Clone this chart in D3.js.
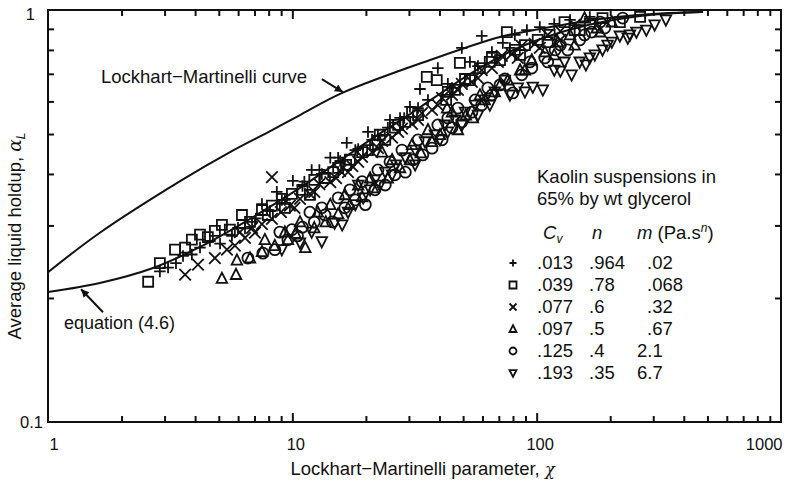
<!DOCTYPE html>
<html>
<head>
<meta charset="utf-8">
<script src="https://cdn.jsdelivr.net/npm/d3@7"></script>
<style>
  body { margin: 0; background: #fff; }
  text { font-family: "Liberation Sans", Arial, Helvetica, sans-serif; fill: #111; }
</style>
</head>
<body>
<div class="chart"></div>
<script>
// Lockhart-Martinelli parameter (chi) and liquid holdup (alpha) for each kaolin suspension
var plusChi = [2.87,3.10,3.34,3.57,3.88,4.19,4.60,5.06,5.66,6.40,6.84,7.51,8.10,8.64,9.32,10.05,11.0,12.0,13.2,14.3,15.7,16.7,18.6,20.4,22.4,25.1,27.6,30.3,33.3,35.9,39.4,43.3,49.4,53.3,59.6,65.6,72.7,81.4,91.2,103,118,137,165,
  5.99,7.09,9.06,11.2,12.9,15.4,18.1,21.2,24.6,28.7,32.7,45.0,57.5,77.7];
var plusAlpha = [0.232,0.237,0.243,0.253,0.255,0.265,0.275,0.271,0.283,0.295,0.306,0.338,0.325,0.362,0.346,0.385,0.374,0.409,0.400,0.438,0.430,0.476,0.460,0.506,0.495,0.541,0.547,0.582,0.643,0.605,0.723,0.662,0.809,0.748,0.865,0.791,0.832,0.870,0.894,0.909,0.925,0.946,0.962,
  0.296,0.312,0.346,0.383,0.409,0.438,0.457,0.484,0.518,0.547,0.578,0.647,0.731,0.809];

var squareChi = [2.57,2.87,3.31,3.64,3.88,4.19,4.51,4.82,5.15,5.55,6.22,6.71,7.51,8.25,9.06,9.96,11.0,12.3,13.6,15.4,17.2,19.3,21.8,24.0,26.3,29.0,32.7,35.5,39.0,42.6,46.3,48.5,53.3,58.6,65.6,70.8,75.5,81.4,89.5,101,113,130,150,165,186,219,265,
  7.94,9.32,11.8,14.7,16.6,20.4,22.8,27.1,30.9,43.3,50.9,64.3,85.5,111,143];
var squareAlpha = [0.219,0.243,0.262,0.265,0.277,0.285,0.281,0.291,0.301,0.293,0.318,0.306,0.327,0.335,0.348,0.358,0.366,0.387,0.391,0.414,0.433,0.452,0.471,0.484,0.518,0.535,0.556,0.688,0.676,0.605,0.640,0.744,0.676,0.723,0.765,0.756,0.884,0.800,0.822,0.846,0.870,0.935,0.894,0.925,0.956,0.935,0.962,
  0.318,0.331,0.356,0.404,0.421,0.457,0.498,0.526,0.565,0.633,0.680,0.748,0.778,0.836,0.894];

var crossChi = [3.64,4.11,4.82,5.40,5.82,6.40,7.03,7.51,8.25,8.25,8.98,9.77,10.75,11.8,12.9,14.3,15.7,17.6,19.3,21.2,23.3,25.6,28.1,30.9,33.9,37.3,41.0,45.0,49.4,54.3,59.6,65.6,72.0,79.1,86.9,98.2,111,125,143,
  6.10,6.84,10.2,12.3,15.1,16.9,18.6,22.4,27.1,32.7,39.4,47.6,57.5,69.4,83.7,103,125];
var crossAlpha = [0.228,0.241,0.250,0.262,0.268,0.280,0.288,0.302,0.393,0.311,0.323,0.335,0.348,0.358,0.378,0.382,0.407,0.418,0.440,0.452,0.481,0.490,0.515,0.529,0.562,0.572,0.612,0.622,0.662,0.669,0.715,0.723,0.774,0.782,0.818,0.827,0.870,0.889,0.920,
  0.289,0.296,0.331,0.362,0.391,0.404,0.428,0.462,0.506,0.541,0.588,0.640,0.683,0.748,0.765,0.809,0.846];

var triUpChi = [5.15,5.88,5.93,6.71,7.51,8.48,9.59,10.3,11.3,12.3,13.7,15.4,17.2,19.3,21.4,23.3,24.6,27.6,30.3,33.6,37.3,40.2,43.0,47.6,51.3,54.8,61.3,67.4,76.2,85.5,95.5,108,122,137,157,176,203,
  7.72,9.32,10.75,12.7,14.3,16.4,18.6,20.8,25.6,30.9,35.9,45.0,58.6,70.8,89.5,118,143,182];
var triUpAlpha = [0.223,0.228,0.247,0.250,0.259,0.268,0.277,0.287,0.265,0.296,0.306,0.320,0.337,0.352,0.370,0.452,0.391,0.414,0.433,0.450,0.479,0.498,0.578,0.512,0.556,0.547,0.605,0.633,0.676,0.715,0.756,0.791,0.836,0.870,0.956,0.904,0.935,
  0.277,0.289,0.306,0.323,0.337,0.356,0.376,0.391,0.433,0.471,0.512,0.565,0.622,0.658,0.715,0.778,0.822,0.884];

var circleChi = [6.58,7.58,8.48,9.59,10.5,11.0,12.3,13.6,14.6,16.4,18.1,19.9,21.8,24.0,26.3,29.0,31.2,34.2,37.3,41.0,45.0,49.4,54.3,59.6,65.6,70.8,79.9,86.9,95.5,108,119,134,150,168,190,225,
  8.89,9.96,11.8,13.2,15.4,17.2,19.3,22.4,25.1,28.1,32.7,39.4,43.3,47.6,56.0,63.1,74.1,93.8,111,125,157,182];
var circleAlpha = [0.250,0.257,0.262,0.277,0.283,0.297,0.306,0.318,0.306,0.331,0.346,0.337,0.366,0.376,0.398,0.404,0.433,0.445,0.462,0.484,0.518,0.535,0.565,0.588,0.622,0.658,0.629,0.696,0.723,0.765,0.800,0.800,0.846,0.884,0.904,0.956,
  0.289,0.293,0.323,0.331,0.350,0.366,0.383,0.409,0.428,0.457,0.484,0.526,0.547,0.578,0.605,0.647,0.680,0.748,0.748,0.822,0.870,0.935];

var triDownChi = [9.06,10.75,12.0,13.2,14.9,16.9,18.6,19.5,21.8,24.0,26.6,29.0,31.8,34.9,38.3,42.0,46.3,50.9,56.0,61.3,67.4,74.1,83.7,96.4,106,118,130,139,150,159,173,186,203,219,236,256,281,304,338,
  16.0,18.1,20.8,22.8,25.6,31.8,40.2,43.3,49.4,57.5,64.3,77.7,89.5,125,165,195,241];
var triDownAlpha = [0.262,0.272,0.289,0.274,0.304,0.323,0.376,0.350,0.387,0.404,0.421,0.438,0.457,0.479,0.498,0.526,0.541,0.565,0.588,0.605,0.633,0.676,0.647,0.650,0.640,0.715,0.748,0.696,0.748,0.736,0.778,0.800,0.836,0.865,0.855,0.884,0.894,0.920,0.946,
  0.301,0.337,0.366,0.376,0.398,0.421,0.484,0.506,0.526,0.556,0.588,0.622,0.633,0.711,0.765,0.822,0.870];

// the two curves
var lmChi = [1, 1.63, 3.54, 5.56, 8.26, 10.75, 16.1, 36.6, 70.8, 103, 150, 213, 320, 480];
var lmAlpha = [0.231, 0.288, 0.387, 0.452, 0.511, 0.556, 0.630, 0.756, 0.860, 0.899, 0.935, 0.962, 0.981, 0.989];
var eqChi = [1, 1.63, 2.69, 4.19, 6.28, 10.75, 20.2, 30.3, 54.9, 85.5, 150, 265, 467];
var eqAlpha = [0.2068, 0.2175, 0.2365, 0.266, 0.304, 0.370, 0.478, 0.559, 0.707, 0.813, 0.909, 0.967, 0.989];

// legend table
var cvLabels = [".013", ".039", ".077", ".097", ".125", ".193"];
var nLabels = [".964", ".78", ".6", ".5", ".4", ".35"];
var mLabels = [".02", ".068", ".32", ".67", "2.1", "6.7"];
var shapes = ["plus", "square", "cross", "triUp", "circle", "triDown"];

// axis ticks
var xMajor = [1, 10, 100, 1000];
var yMajor = [0.1, 1];

//svg and chart dimensions
var svgWidth = 786;
var svgHeight = 481;

var margin = {
  top: 10,
  right: 5,
  bottom: 59,
  left: 48
};

var chartWidth = svgWidth - margin.left - margin.right;
var chartHeight = svgHeight - margin.top - margin.bottom;

var svg = d3.select(".chart")
  .append("svg")
  .attr("width", svgWidth)
  .attr("height", svgHeight);

var defs = svg.append("defs");
defs.append("marker")
  .attr("id", "arrow")
  .attr("viewBox", "0 0 10 10")
  .attr("refX", 10)
  .attr("refY", 5)
  .attr("markerWidth", 10)
  .attr("markerHeight", 8)
  .attr("markerUnits", "userSpaceOnUse")
  .attr("orient", "auto")
  .append("path")
  .attr("d", "M0,0L10,5L0,10Z")
  .attr("fill", "#111");

var chartGroup = svg.append("g")
  .attr("transform", `translate(${margin.left}, ${margin.top})`);

var x = d3.scaleLog().domain([1, 1000]).range([0, chartWidth]);
var y = d3.scaleLog().domain([0.1, 1]).range([chartHeight, 0]);

// minor ticks, 2..9 within every decade
var xMinor = [];
[1, 10, 100].forEach(function(d) {
  for (var k = 2; k <= 9; k++) xMinor.push(d * k);
});
var yMinor = [];
for (var k = 2; k <= 9; k++) yMinor.push(k / 10);

//ticks point inwards on all four sides
function tickAxis(axisFn, values, size, scale) {
  return axisFn(scale).tickValues(values).tickSizeInner(-size).tickSizeOuter(0).tickFormat("");
}

chartGroup.append("g").attr("transform", `translate(0, ${chartHeight})`).call(tickAxis(d3.axisBottom, xMinor, 6, x));
chartGroup.append("g").attr("transform", `translate(0, ${chartHeight})`).call(tickAxis(d3.axisBottom, [10, 100], 9, x));
chartGroup.append("g").call(tickAxis(d3.axisTop, xMinor, 6, x));
chartGroup.append("g").call(tickAxis(d3.axisTop, [10, 100], 9, x));
chartGroup.append("g").call(tickAxis(d3.axisLeft, yMinor, 6, y));
chartGroup.append("g").attr("transform", `translate(${chartWidth}, 0)`).call(tickAxis(d3.axisRight, yMinor, 6, y));

chartGroup.selectAll(".tick line").attr("stroke", "#111").attr("stroke-width", 2);
chartGroup.selectAll(".domain").remove();

// tick labels
var xLabels = chartGroup.append("g")
  .attr("transform", `translate(0, ${chartHeight})`)
  .call(d3.axisBottom(x).tickValues(xMajor).tickSize(0).tickPadding(16).tickFormat(d3.format("d")));
xLabels.select(".domain").remove();
xLabels.selectAll("text")
  .attr("font-size", 16.5)
  .attr("font-family", null)
  .attr("text-anchor", d => d === 1 ? "start" : d === 1000 ? "end" : "middle")
  .attr("dx", d => d === 1 ? 1 : d === 1000 ? 1 : 3);

var yLabels = chartGroup.append("g")
  .call(d3.axisLeft(y).tickValues(yMajor).tickSize(0).tickPadding(5).tickFormat(d => d === 1 ? "1" : "0.1"));
yLabels.select(".domain").remove();
yLabels.selectAll("text")
  .attr("font-size", 16.5)
  .attr("font-family", null)
  .attr("dy", d => d === 1 ? "0.55em" : "0.32em")
  .attr("dx", d => d === 1 ? -8 : 0);

// frame
chartGroup.append("rect")
  .attr("width", chartWidth)
  .attr("height", chartHeight)
  .attr("fill", "none")
  .attr("stroke", "#111")
  .attr("stroke-width", 2);

// curves
var line = d3.line()
  .x(d => x(d[0]))
  .y(d => y(d[1]))
  .curve(d3.curveCatmullRom.alpha(0.5));

chartGroup.append("path")
  .datum(d3.zip(lmChi, lmAlpha))
  .attr("d", line)
  .attr("fill", "none")
  .attr("stroke", "#111")
  .attr("stroke-width", 2);

chartGroup.append("path")
  .datum(d3.zip(eqChi, eqAlpha))
  .attr("d", line)
  .attr("fill", "none")
  .attr("stroke", "#111")
  .attr("stroke-width", 2);

//marker outlines centred on 0,0
function markerPath(shape, s) {
  var h = s / 2;
  if (shape === "plus") return `M${-h},0H${h}M0,${-h}V${h}`;
  if (shape === "square") return `M${-h},${-h}H${h}V${h}H${-h}Z`;
  if (shape === "cross") return `M${-h},${-h}L${h},${h}M${-h},${h}L${h},${-h}`;
  if (shape === "triUp") return `M0,${-h * 1.1}L${h},${h * 0.85}L${-h},${h * 0.85}Z`;
  if (shape === "triDown") return `M0,${h * 1.1}L${h},${-h * 0.85}L${-h},${-h * 0.85}Z`;
  return `M${h},0A${h},${h} 0 1,1 ${-h},0A${h},${h} 0 1,1 ${h},0Z`;
}

var series = [
  {shape: "plus", size: 11.5, chi: plusChi, alpha: plusAlpha},
  {shape: "square", size: 10, chi: squareChi, alpha: squareAlpha},
  {shape: "cross", size: 11.5, chi: crossChi, alpha: crossAlpha},
  {shape: "triUp", size: 10.5, chi: triUpChi, alpha: triUpAlpha},
  {shape: "circle", size: 11, chi: circleChi, alpha: circleAlpha},
  {shape: "triDown", size: 10.5, chi: triDownChi, alpha: triDownAlpha}
];

series.forEach(function(s) {
  chartGroup.selectAll(null)
    .data(d3.zip(s.chi, s.alpha))
    .enter()
    .append("path")
    .attr("transform", d => `translate(${x(d[0])}, ${y(d[1])})`)
    .attr("d", markerPath(s.shape, s.size))
    .attr("fill", "none")
    .attr("stroke", "#111")
    .attr("stroke-width", 1.8);
});

// annotations with arrows pointing onto the curves
var lmTip = [16.1, 0.632];
var eqTip = [1.365, 0.210];

chartGroup.append("line")
  .attr("x1", x(lmTip[0]) - 21).attr("y1", y(lmTip[1]) - 13)
  .attr("x2", x(lmTip[0])).attr("y2", y(lmTip[1]))
  .attr("stroke", "#111").attr("stroke-width", 2)
  .attr("marker-end", "url(#arrow)");

chartGroup.append("line")
  .attr("x1", x(eqTip[0]) + 22).attr("y1", y(eqTip[1]) + 23)
  .attr("x2", x(eqTip[0])).attr("y2", y(eqTip[1]))
  .attr("stroke", "#111").attr("stroke-width", 2)
  .attr("marker-end", "url(#arrow)");

svg.append("text")
  .attr("x", 101).attr("y", 83)
  .attr("font-size", 18.5)
  .text("Lockhart\u2212Martinelli curve");

svg.append("text")
  .attr("x", 64).attr("y", 329)
  .attr("font-size", 18)
  .text("equation (4.6)");

// axis titles
var xTitle = svg.append("text")
  .attr("x", margin.left + chartWidth / 2 + 8)
  .attr("y", 475)
  .attr("text-anchor", "middle")
  .attr("font-size", 18.5);
xTitle.append("tspan").text("Lockhart\u2212Martinelli parameter, ");
xTitle.append("tspan").attr("font-style", "italic").attr("font-family", "DejaVu Serif, serif").attr("font-size", 16).text("\u03c7");

var yTitle = svg.append("text")
  .attr("transform", "translate(21, 236) rotate(-90)")
  .attr("text-anchor", "middle")
  .attr("font-size", 18.5);
yTitle.append("tspan").text("Average liquid holdup, ");
yTitle.append("tspan").attr("font-style", "italic").attr("font-family", "DejaVu Serif, serif").text("\u03b1");
yTitle.append("tspan").attr("font-style", "italic").attr("font-size", 12).attr("dy", 4).text("L");

// legend
var legend = svg.append("g");
legend.append("text").attr("x", 537).attr("y", 183).attr("font-size", 18.5).text("Kaolin suspensions in");
legend.append("text").attr("x", 537).attr("y", 205).attr("font-size", 18.5).text("65% by wt glycerol");

var head = legend.append("g").attr("font-size", 18.5);
var cvHead = head.append("text").attr("x", 543).attr("y", 239);
cvHead.append("tspan").attr("font-style", "italic").text("C");
cvHead.append("tspan").attr("font-style", "italic").attr("font-size", 12).attr("dy", 4).text("v");
head.append("text").attr("x", 592).attr("y", 239).attr("font-style", "italic").text("n");
var mHead = head.append("text").attr("x", 637).attr("y", 239);
mHead.append("tspan").attr("font-style", "italic").text("m");
mHead.append("tspan").text(" (Pa.s");
mHead.append("tspan").attr("font-style", "italic").attr("font-size", 12).attr("dy", -7).text("n");
mHead.append("tspan").attr("dy", 7).text(")");

var rows = legend.selectAll(".row")
  .data(shapes)
  .enter()
  .append("g")
  .attr("class", "row")
  .attr("transform", (d, i) => `translate(0, ${268.5 + i * 22})`);

rows.append("path")
  .attr("transform", "translate(513, -5.5)")
  .attr("d", d => markerPath(d, 7))
  .attr("fill", "none")
  .attr("stroke", "#111")
  .attr("stroke-width", 1.8);

rows.append("text").attr("x", 537).attr("font-size", 18.5).text((d, i) => cvLabels[i]);
rows.append("text").attr("x", 589).attr("font-size", 18.5).text((d, i) => nLabels[i]);
rows.append("text")
  .attr("x", (d, i) => mLabels[i][0] === "." ? 647 : 637)
  .attr("font-size", 18.5)
  .text((d, i) => mLabels[i]);
</script>
</body>
</html>
